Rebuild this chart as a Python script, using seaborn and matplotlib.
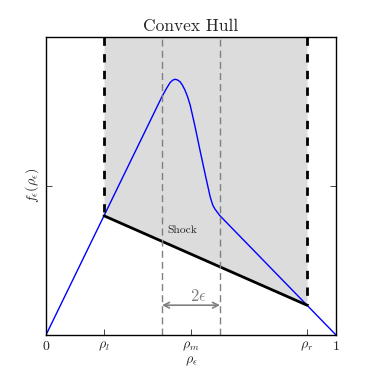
import numpy as np
import matplotlib
matplotlib.use('Agg')
import matplotlib.pyplot as plt
import seaborn as sns
import pandas as pd

# values
rho = [0.0, 0.2, 0.4, 0.416, 0.428, 0.437, 0.445, 0.453, 0.462, 0.470, 0.479,
       0.488, 0.497, 0.505, 0.514, 0.531, 0.548, 0.566, 0.575, 0.583, 0.6, 0.9, 1.0]
flux = [0.0, 0.4, 0.8, 0.828, 0.847, 0.855, 0.858, 0.856, 0.850, 0.839, 0.822,
        0.800, 0.772, 0.738, 0.699, 0.620, 0.543, 0.464, 0.436, 0.422, 0.4, 0.1, 0.0]
rho_l, rho_m, rho_r = 0.2, 0.5, 0.9
eps = 0.1
f_l, f_r = 0.4, 0.1
tick_pos = [0, rho_l, rho_m, rho_r, 1]
tick_lab = ['$0$', r'$\rho_l$', r'$\rho_m$', r'$\rho_r$', '$1$']

sns.set_style("ticks")
plt.rcParams['font.family'] = 'serif'
plt.rcParams['font.serif'] = ['cmr10', 'DejaVu Serif']
plt.rcParams['mathtext.fontset'] = 'cm'
plt.rcParams['axes.formatter.use_mathtext'] = True

fig = plt.figure(figsize=(3.73, 3.73), dpi=100)
ax = fig.add_axes([0.1233, 0.1019, 0.7775, 0.799])

# convex hull region above the shock chord
ax.fill_between([rho_l, rho_r], [f_l, f_r], [1, 1], color='#dcdcdc', lw=0)

df = pd.DataFrame({'rho': rho, 'f': flux})
sns.lineplot(data=df, x='rho', y='f', color='blue', lw=1, ax=ax, sort=False)

ax.plot([rho_l, rho_r], [f_l, f_r], color='black', lw=2)
ax.plot([rho_l, rho_l], [1, f_l], color='black', lw=2, ls=(0, (3, 3)))
ax.plot([rho_r, rho_r], [1, f_r], color='black', lw=2, ls=(0, (3, 3)))
for xv in [rho_m - eps, rho_m + eps]:
    ax.axvline(xv, color='gray', lw=1, ls=(0, (5, 3)))

ax.annotate('', xy=(rho_m - eps, 0.1), xytext=(rho_m + eps, 0.1),
            arrowprops=dict(arrowstyle='<->', color='gray', lw=1.2, shrinkA=0, shrinkB=0))
ax.text(0.524, 0.13, r'$2\epsilon$', color='gray', fontsize=12, ha='center', va='center')
ax.text(0.47, 0.35, 'Shock', fontsize=8.3, ha='center', va='center')

ax.set_xlim(0, 1)
ax.set_ylim(0, 1)
ax.set_xticks(tick_pos)
ax.set_xticklabels(tick_lab, fontsize=10)
ax.set_yticks([0.5])
ax.set_yticklabels([''])
ax.tick_params(direction='in', top=True, right=True, length=4, width=0.6)
for s in ax.spines.values():
    s.set_linewidth(1)
    s.set_color('black')
ax.set_xlabel(r'$\rho_\epsilon$', fontsize=10, labelpad=1)
ax.set_ylabel(r'$f_\epsilon(\rho_\epsilon)$', fontsize=10, labelpad=0)
ax.set_title('Convex Hull', fontsize=12.5, pad=4)

plt.savefig('out.png', dpi=100)
